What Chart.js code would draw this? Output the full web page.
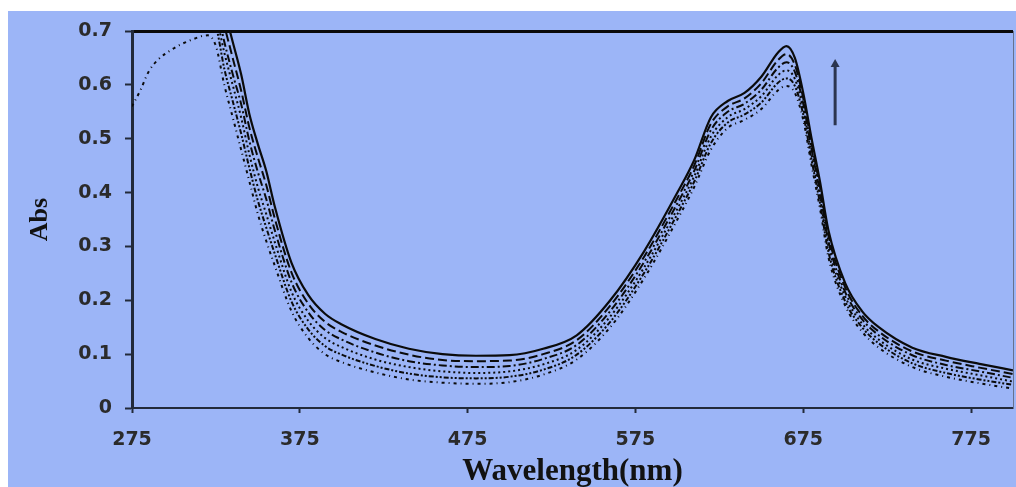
<!DOCTYPE html>
<html>
<head>
<meta charset="utf-8">
<script src="https://cdn.jsdelivr.net/npm/chart.js@4.4.1/dist/chart.umd.min.js"></script>
<style>
    html, body { margin: 0; padding: 0; background: #fff; }
    #frame { position: absolute; left: 8px; top: 11px; width: 1008px; height: 476px; background: #9cb5f7; }
    canvas { display: block; }
</style>
</head>
<body>
<div id="frame"><canvas id="spectra" width="1008" height="476"></canvas></div>
<script>
// Wavelength grid (nm) shared by every spectrum
const wavelengths = [275, 280, 285, 290, 300, 310, 320, 325, 330, 335, 340, 345, 350, 355, 360, 370, 380, 390, 400, 420, 440, 460, 480, 500, 520, 540, 560, 580, 600, 610, 620, 630, 640, 650, 660, 665, 670, 675, 680, 685, 690, 700, 710, 720, 740, 760, 780, 800];

// Absorbance, highest curve first (values above 0.7 run off the top of the plot)
const absSolid = [0.90, 0.90, 0.90, 0.90, 0.90, 0.90, 0.86, 0.80, 0.74, 0.68, 0.62, 0.545, 0.49, 0.44, 0.375, 0.27, 0.21, 0.175, 0.155, 0.128, 0.11, 0.10, 0.097, 0.098, 0.11, 0.135, 0.20, 0.29, 0.40, 0.46, 0.54, 0.57, 0.585, 0.615, 0.66, 0.672, 0.65, 0.585, 0.50, 0.42, 0.33, 0.232, 0.18, 0.15, 0.112, 0.095, 0.082, 0.07];
const absDash = [0.86, 0.87, 0.88, 0.88, 0.88, 0.88, 0.83, 0.77, 0.71, 0.65, 0.59, 0.52, 0.465, 0.414, 0.353, 0.252, 0.194, 0.16, 0.141, 0.116, 0.099, 0.089, 0.087, 0.088, 0.10, 0.126, 0.19, 0.28, 0.39, 0.45, 0.528, 0.56, 0.575, 0.603, 0.646, 0.657, 0.637, 0.575, 0.49, 0.41, 0.32, 0.224, 0.172, 0.142, 0.105, 0.088, 0.075, 0.063];
const absDashDot = [0.82, 0.83, 0.84, 0.85, 0.85, 0.85, 0.80, 0.75, 0.68, 0.62, 0.565, 0.495, 0.438, 0.388, 0.331, 0.234, 0.178, 0.145, 0.127, 0.103, 0.087, 0.079, 0.076, 0.078, 0.091, 0.117, 0.18, 0.27, 0.38, 0.44, 0.516, 0.55, 0.565, 0.591, 0.632, 0.642, 0.624, 0.565, 0.48, 0.40, 0.31, 0.215, 0.165, 0.135, 0.098, 0.08, 0.068, 0.056];
const absDot = [0.78, 0.79, 0.80, 0.81, 0.82, 0.82, 0.78, 0.73, 0.66, 0.60, 0.54, 0.47, 0.41, 0.36, 0.309, 0.216, 0.162, 0.13, 0.113, 0.09, 0.076, 0.068, 0.065, 0.068, 0.081, 0.108, 0.17, 0.26, 0.37, 0.43, 0.504, 0.54, 0.555, 0.579, 0.618, 0.627, 0.611, 0.555, 0.47, 0.39, 0.30, 0.207, 0.157, 0.127, 0.09, 0.073, 0.061, 0.049];
const absDashDotDot = [0.74, 0.75, 0.76, 0.77, 0.76, 0.76, 0.74, 0.71, 0.63, 0.57, 0.51, 0.445, 0.385, 0.335, 0.287, 0.198, 0.146, 0.115, 0.099, 0.078, 0.064, 0.057, 0.055, 0.058, 0.071, 0.099, 0.16, 0.25, 0.36, 0.42, 0.492, 0.53, 0.545, 0.567, 0.604, 0.612, 0.598, 0.545, 0.46, 0.38, 0.29, 0.198, 0.15, 0.12, 0.083, 0.065, 0.053, 0.043];
const absLowest = [0.56, 0.59, 0.625, 0.645, 0.668, 0.683, 0.692, 0.672, 0.60, 0.54, 0.48, 0.42, 0.36, 0.31, 0.265, 0.18, 0.13, 0.10, 0.085, 0.066, 0.053, 0.047, 0.045, 0.048, 0.062, 0.09, 0.15, 0.24, 0.35, 0.41, 0.48, 0.52, 0.535, 0.555, 0.59, 0.598, 0.585, 0.535, 0.45, 0.37, 0.28, 0.19, 0.142, 0.112, 0.076, 0.058, 0.046, 0.036];

const xTicks = [275, 375, 475, 575, 675, 775];
const yTicks = [0, 0.1, 0.2, 0.3, 0.4, 0.5, 0.6, 0.7];

// Arrow marking the rising band (nm, absorbance)
const arrowNm = 694;
const arrowFrom = 0.525;
const arrowTo = 0.648;

const axisColor = '#222a3a';
const tickFont = { family: 'DejaVu Sans', size: 19, weight: 'bold' };

function toPoints(values) {
    return wavelengths.map((w, i) => ({ x: w, y: values[i] }));
}

function spectrum(label, values, dash, width) {
    return {
        label: label,
        data: toPoints(values),
        borderColor: '#0b0b0b',
        borderWidth: width || 2,
        borderDash: dash,
        pointRadius: 0,
        cubicInterpolationMode: 'monotone',
        fill: false
    };
}

const arrowPlugin = {
    id: 'arrow',
    afterDatasetsDraw(chart) {
        const { ctx, scales: { x, y } } = chart;
        const px = x.getPixelForValue(arrowNm);
        const yStart = y.getPixelForValue(arrowFrom);
        const yEnd = y.getPixelForValue(arrowTo);
        ctx.save();
        ctx.strokeStyle = '#2b3550';
        ctx.fillStyle = '#2b3550';
        ctx.lineWidth = 3;
        ctx.beginPath();
        ctx.moveTo(px, yStart);
        ctx.lineTo(px, yEnd + 6);
        ctx.stroke();
        ctx.beginPath();
        ctx.moveTo(px, yEnd);
        ctx.lineTo(px - 4.5, yEnd + 8);
        ctx.lineTo(px + 4.5, yEnd + 8);
        ctx.closePath();
        ctx.fill();
        ctx.restore();
    }
};

const isTop = v => Math.abs(v - yTicks[yTicks.length - 1]) < 1e-6;

new Chart(document.getElementById('spectra').getContext('2d'), {
    type: 'line',
    data: {
        datasets: [
            spectrum('1', absSolid, [], 2.2),
            spectrum('2', absDash, [9, 4]),
            spectrum('3', absDashDot, [8, 3, 2, 3]),
            spectrum('4', absDot, [2, 3]),
            spectrum('5', absDashDotDot, [5, 2, 2, 2, 2, 2]),
            spectrum('6', absLowest, [3, 4, 1, 4])
        ]
    },
    options: {
        responsive: false,
        animation: false,
        devicePixelRatio: 1,
        layout: { padding: { top: 20, left: 0, right: 0, bottom: 0 } },
        plugins: {
            legend: { display: false },
            tooltip: { enabled: false }
        },
        scales: {
            x: {
                type: 'linear',
                min: 275,
                max: 800,
                afterBuildTicks: s => { s.ticks = xTicks.map(v => ({ value: v })); },
                afterFit: s => { s.height = 79; },
                grid: {
                    drawOnChartArea: false,
                    tickLength: 5,
                    tickColor: axisColor,
                    tickWidth: 2
                },
                border: { color: axisColor, width: 2 },
                ticks: {
                    font: tickFont,
                    color: '#2b2b2b',
                    padding: 16,
                    maxRotation: 0,
                    autoSkip: false
                },
                title: {
                    display: true,
                    text: 'Wavelength(nm)',
                    color: '#121212',
                    font: { family: 'Liberation Serif', size: 31, weight: 'bold', lineHeight: 1 },
                    padding: 0
                }
            },
            y: {
                min: 0,
                max: 0.7,
                afterBuildTicks: s => { s.ticks = yTicks.map(v => ({ value: v })); },
                afterFit: s => {
                    s.width = 124;
                    s.paddingTop = 0;
                    s.paddingBottom = 0;
                },
                grid: {
                    color: ctx => isTop(ctx.tick.value) ? '#0a0a0a' : 'transparent',
                    lineWidth: ctx => isTop(ctx.tick.value) ? 3 : 1,
                    tickLength: 7,
                    tickColor: axisColor,
                    tickWidth: 2
                },
                border: { color: axisColor, width: 3 },
                ticks: {
                    font: tickFont,
                    color: '#2b2b2b',
                    padding: 13,
                    callback: v => v === 0 ? '0' : v.toFixed(1)
                },
                title: {
                    display: true,
                    text: 'Abs',
                    color: '#121212',
                    font: { family: 'Liberation Serif', size: 26, weight: 'bold' },
                    padding: { top: 17, bottom: 0 }
                }
            },
            yRight: {
                position: 'right',
                display: true,
                min: 0,
                max: 0.7,
                afterFit: s => {
                    s.width = 3;
                    s.paddingTop = 0;
                    s.paddingBottom = 0;
                },
                ticks: { display: false },
                grid: { drawOnChartArea: false, drawTicks: false },
                border: { color: '#66728e', width: 1 }
            }
        }
    },
    plugins: [arrowPlugin]
});
</script>
</body>
</html>
